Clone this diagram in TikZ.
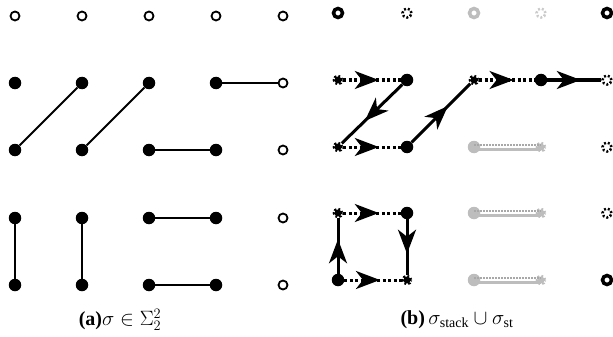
\documentclass[tikz,border=0pt]{standalone}
\usepackage{fontspec}
\setmainfont{Liberation Serif}
\usetikzlibrary{arrows.meta,decorations.markings}
\definecolor{lgray}{HTML}{BDBDBD}
\definecolor{mgray}{HTML}{A8A8A8}
\begin{document}
\begin{tikzpicture}[x=1pt,y=-1pt,
  opn/.style={circle,draw,line width=1.8pt,inner sep=0pt,minimum size=9pt,fill=white},
  fil/.style={circle,fill,inner sep=0pt,minimum size=12.5pt},
  ring/.style={circle,draw,line width=3.5pt,inner sep=0pt,minimum size=9pt},
  dring/.style={circle,draw,line width=2.5pt,dash pattern=on 2pt off 2pt,inner sep=0pt,minimum size=9pt},
  gear/.style={circle,fill,draw,line width=3.6pt,dash pattern=on 1.8pt off 1.6pt,inner sep=0pt,minimum size=7pt},
  ln/.style={line width=2pt},
  midarr/.style={postaction=decorate,decoration={markings,mark=at position 0.62 with {\arrow{Stealth[length=24pt,width=18pt,inset=7pt]}}}},
  sol/.style={line width=3pt,midarr},
  dots/.style={line width=3pt,dash pattern=on 3pt off 2.5pt,midarr},
  gsol/.style={line width=3pt,lgray},
  gdot/.style={line width=2pt,mgray,dash pattern=on 1.5pt off 1.5pt},
  captxt/.style={font=\fontsize{20}{24}\selectfont,inner sep=0pt}
]
\useasboundingbox (0,0) rectangle (613,337);
% ---------- left panel ----------
\foreach \c/\x in {1/15,2/82,3/149,4/216,5/283} \node[opn] (La\c) at (\x,16) {};
\foreach \r/\y in {b/83,c/150,d/218,e/285}{
  \foreach \c/\x in {1/15,2/82,3/149,4/216} \node[fil] (L\r\c) at (\x,\y) {};
  \node[opn] (L\r5) at (283,\y) {};
}
\draw[ln] (Lb4) -- (Lb5);
\draw[ln] (Lc1) -- (Lb2);
\draw[ln] (Lc2) -- (Lb3);
\draw[ln] (Lc3) -- (Lc4);
\draw[ln] (Ld1) -- (Le1);
\draw[ln] (Ld2) -- (Le2);
\draw[ln] (Ld3) -- (Ld4);
\draw[ln] (Le3) -- (Le4);
\node[captxt] (capa) at (120,320) {\textbf{(a)}$\sigma\in\Sigma^{2}_{2}$};
% ---------- right panel ----------
\node[ring] (Ra1) at (338,13) {};
\node[dring] (Ra2) at (407,13) {};
\node[ring,draw=lgray] (Ra3) at (474,13) {};
\node[dring,draw=lgray!80] (Ra4) at (541,13) {};
\node[ring] (Ra5) at (607,13) {};
\node[gear] (Rb1) at (338,80) {};
\node[fil] (Rb2) at (407,80) {};
\node[gear] (Rb3) at (474,80) {};
\node[fil] (Rb4) at (541,80) {};
\node[dring] (Rb5) at (607,80) {};
\node[gear] (Rc1) at (338,147) {};
\node[fil] (Rc2) at (407,147) {};
\node[dring] (Rc5) at (607,147) {};
\node[gear] (Rd1) at (338,213) {};
\node[fil] (Rd2) at (407,213) {};
\node[dring] (Rd5) at (607,213) {};
\node[fil] (Re1) at (338,280) {};
\node[gear] (Re2) at (407,280) {};
\node[ring] (Re5) at (607,280) {};
\foreach \r/\y in {c/147,d/213,e/280}{
  \node[fil,lgray] (R\r3) at (474,\y) {};
  \node[gear,lgray] (R\r4) at (541,\y) {};
  \draw[gsol] ([yshift=-2pt]R\r3.center) -- ([yshift=-2pt]R\r4.center);
  \draw[gdot] ([yshift=2pt]R\r3.center) -- ([yshift=2pt]R\r4.center);
}
\draw[dots] (Rb1) -- (Rb2);
\draw[dots] (Rc1) -- (Rc2);
\draw[dots] (Rb3) -- (Rb4);
\draw[dots] (Rd1) -- (Rd2);
\draw[dots] (Re1) -- (Re2);
\draw[sol] (Rb2) -- (Rc1);
\draw[sol] (Rc2) -- (Rb3);
\draw[sol] (Rb4) -- (Rb5);
\draw[sol] (Rd2) -- (Re2);
\draw[sol] (Re1) -- (Rd1);
\node[captxt] (capb) at (457,320) {\textbf{(b)}\,$\sigma_{\mathrm{stack}}\cup\sigma_{\mathrm{st}}$};
\end{tikzpicture}
\end{document}
